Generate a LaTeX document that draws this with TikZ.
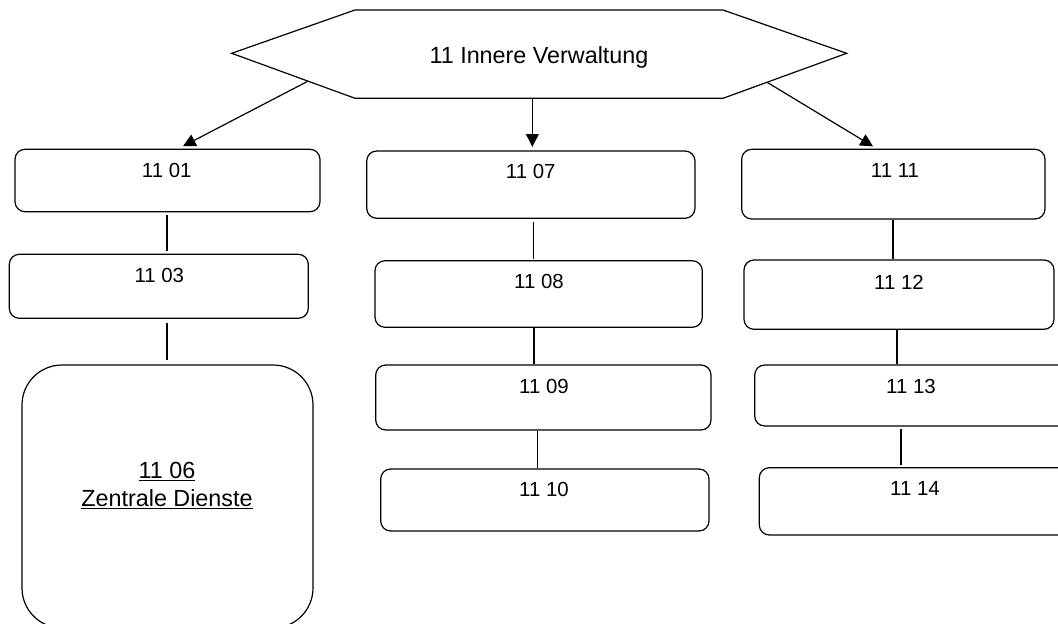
\documentclass[tikz,border=0pt]{standalone}
\usepackage{fontspec}
\setmainfont{Liberation Sans}
\usetikzlibrary{arrows.meta,calc,fit}
\begin{document}
\begin{tikzpicture}[x=0.75pt,y=-0.75pt,
  line width=0.9pt,
  box/.style={draw, rounded corners=7.5pt, inner sep=0pt},
  bigbox/.style={draw, rounded corners=30pt, inner sep=0pt},
  num/.style={font=\fontsize{15.3}{18}\selectfont, inner sep=0pt, anchor=base},
  big/.style={font=\fontsize{17.5}{21}\selectfont, inner sep=0pt, anchor=base},
  arr/.style={-{Triangle[length=9.5pt,width=9.5pt]}}]
\useasboundingbox (0,0) rectangle (1058,624);
\clip (0,0) rectangle (1058,624);

% top level: hexagon
\coordinate (hW)  at (231.7,53.3);
\coordinate (hNW) at (355,10);
\coordinate (hNE) at (723,10);
\coordinate (hE)  at (846.7,53.3);
\coordinate (hSE) at (723,98.3);
\coordinate (hSW) at (355,98.3);
\draw[line join=miter] (hW) -- (hNW) -- (hNE) -- (hE) -- (hSE) -- (hSW) -- cycle;
\node[big] (head) at (539,63.3) {11 Innere Verwaltung};

% left column
\node[box, fit={(15,149.3) (320,211.7)}]    (b0101) {};
\node[box, fit={(9.3,254.3) (308.3,318.3)}] (b0103) {};
\node[bigbox, fit={(22,365) (313,628)}]     (b0106) {};
\node[num] (t0101) at (166.7,177.2) {11 01};
\node[num] (t0103) at (159.3,282.2) {11 03};
\node[big] (t0106a) at (167,478.3) {\underline{11 06}};
\node[big] (t0106b) at (167,506.3) {\underline{Zentrale Dienste}};

% middle column
\node[box, fit={(366.7,151) (695,218.3)}]   (b0107) {};
\node[box, fit={(375,260.7) (702.3,327.3)}] (b0108) {};
\node[box, fit={(375.7,365) (711,430)}]     (b0109) {};
\node[box, fit={(380.7,469) (709,531)}]     (b0110) {};
\node[num] (t0107) at (530.7,178.9) {11 07};
\node[num] (t0108) at (539,288.2) {11 08};
\node[num] (t0109) at (544,393.9) {11 09};
\node[num] (t0110) at (544,496.5) {11 10};

% right column
\node[box, fit={(741.7,149.3) (1045,219)}]  (b1111) {};
\node[box, fit={(744,260) (1054,329.3)}]    (b1112) {};
\node[box, fit={(754.7,365) (1068,426)}]    (b1113) {};
\node[box, fit={(759.3,467.7) (1072,535)}]  (b1114) {};
\node[num] (t1111) at (895,177.2) {11 11};
\node[num] (t1112) at (899,289.2) {11 12};
\node[num] (t1113) at (911,393.2) {11 13};
\node[num] (t1114) at (915,495.2) {11 14};

% arrows from the hexagon
\coordinate (aL) at ($(hW)!0.619!(hSW)$);
\coordinate (aM) at ($(hSW)!0.482!(hSE)$);
\coordinate (aR) at ($(hSE)!0.356!(hE)$);
\draw[arr] (aL) -- ($(b0101.north)+(15.5,-2.5)$);
\draw[arr, shorten >=2.7pt] (aM) -- (aM |- b0107.north);
\draw[arr] (aR) -- ($(b1111.north)+(-20.3,-2.3)$);

% vertical links
\coordinate (xL)  at (167,0);
\coordinate (xM1) at (533.7,0);
\coordinate (xM2) at (534,0);
\coordinate (xM3) at (537.7,0);
\coordinate (xR1) at (893,0);
\coordinate (xR2) at (897,0);
\coordinate (xR3) at (901,0);
\draw[shorten <=1.7pt, shorten >=1.9pt] (b0101.south -| xL) -- (b0103.north -| xL);
\draw[shorten <=3.3pt, shorten >=3.2pt] (b0103.south -| xL) -- (b0106.north -| xL);
\draw[shorten <=2pt, shorten >=1pt] (b0107.south -| xM1) -- (b0108.north -| xM1);
\draw (b0108.south -| xM2) -- (b0109.north -| xM2);
\draw (b0109.south -| xM3) -- (b0110.north -| xM3);
\draw (b1111.south -| xR1) -- (b1112.north -| xR1);
\draw (b1112.south -| xR2) -- (b1113.north -| xR2);
\draw[shorten <=1.5pt, shorten >=1.3pt] (b1113.south -| xR3) -- (b1114.north -| xR3);
\end{tikzpicture}
\end{document}
